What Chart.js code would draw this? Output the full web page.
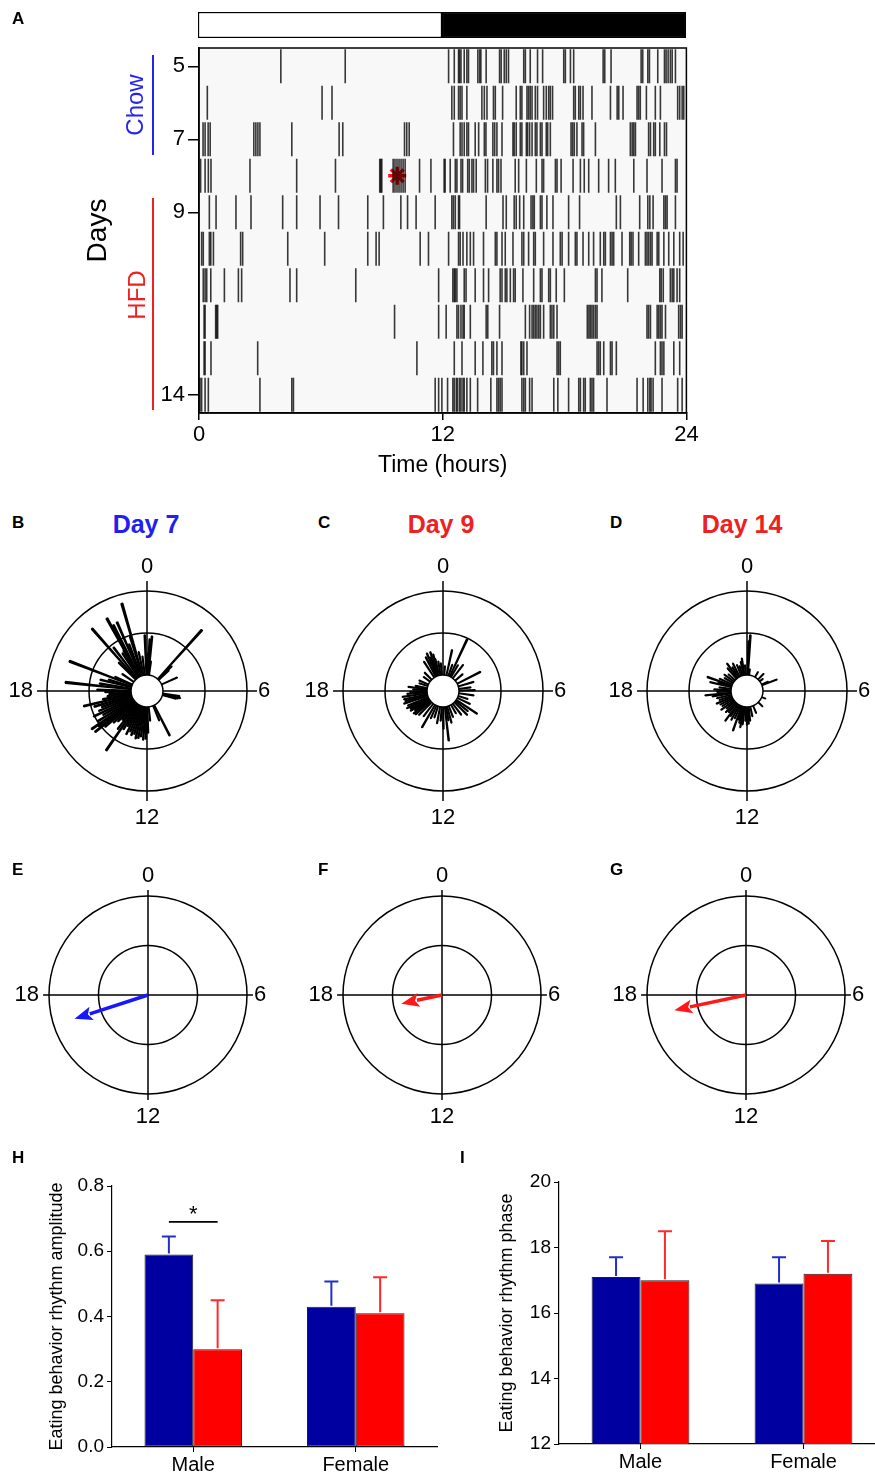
<!DOCTYPE html>
<html>
<head>
<meta charset="utf-8">
<script src="https://cdn.jsdelivr.net/npm/chart.js@4.4.1/dist/chart.umd.min.js"></script>
<style>
  body { margin: 0; background: #fff; overflow: hidden; }
  #fig { position: relative; width: 875px; height: 1475px; font-family: "Liberation Sans", Arial, sans-serif; }
  canvas { position: absolute; }
  .panel { position: absolute; font-weight: bold; font-size: 17px; }
  .title { position: absolute; font-weight: bold; font-size: 25px; transform: translateX(-50%); white-space: nowrap; }
  .rot { position: absolute; transform: translate(-50%, -50%) rotate(-90deg); white-space: nowrap; font-size: 24px; }
  .bar { position: absolute; width: 2px; }
</style>
</head>
<body>
<div id="fig">
  <canvas id="lightdark" width="700" height="39" style="left:0;top:0"></canvas>
  <canvas id="actogram" width="705" height="480" style="left:0;top:0"></canvas>

  <canvas id="polar7" width="290" height="290" style="left:2px;top:546px"></canvas>
  <canvas id="polar9" width="290" height="290" style="left:298px;top:546px"></canvas>
  <canvas id="polar14" width="290" height="290" style="left:602px;top:546px"></canvas>

  <canvas id="vec7" width="290" height="290" style="left:3px;top:850px"></canvas>
  <canvas id="vec9" width="290" height="290" style="left:297px;top:850px"></canvas>
  <canvas id="vec14" width="290" height="290" style="left:601px;top:850px"></canvas>

  <canvas id="amplitude" width="440" height="315" style="left:0;top:1160px"></canvas>
  <canvas id="phase" width="445" height="315" style="left:440px;top:1160px"></canvas>

  <div class="panel" style="left:12px;top:9px">A</div>
  <div class="panel" style="left:12px;top:513px">B</div>
  <div class="panel" style="left:318px;top:513px">C</div>
  <div class="panel" style="left:610px;top:513px">D</div>
  <div class="panel" style="left:12px;top:860px">E</div>
  <div class="panel" style="left:318px;top:860px">F</div>
  <div class="panel" style="left:610px;top:860px">G</div>
  <div class="panel" style="left:12px;top:1148px">H</div>
  <div class="panel" style="left:460px;top:1148px">I</div>

  <div class="title" style="left:146px;top:510px;color:#2020f0">Day 7</div>
  <div class="title" style="left:441px;top:510px;color:#f02020">Day 9</div>
  <div class="title" style="left:742px;top:510px;color:#f02020">Day 14</div>

  <div class="rot" style="left:135px;top:105px;color:#2424f0">Chow</div>
  <div class="bar" style="left:152px;top:55px;height:100px;background:#2424f0"></div>
  <div class="rot" style="left:137px;top:295px;color:#f02020">HFD</div>
  <div class="bar" style="left:152px;top:198px;height:212px;background:#f02020"></div>
</div>

<script>
// ---- panel A: eating events (hour of day) per day ----
const DAYS = [5, 6, 7, 8, 9, 10, 11, 12, 13, 14];
const DAY_TICKS = [5, 7, 9, 14];
const LIGHT_PHASE = [0, 12];
const DARK_PHASE = [12, 24];

const day05 = [4.03, 7.2, 12.29, 12.57, 12.78, 12.83, 12.9, 13.06, 13.19, 13.27, 13.73, 13.82, 13.88, 14.14, 14.8, 14.88, 15.03, 15.13, 15.24, 15.99, 16.07, 16.31, 16.67, 16.92, 17.96, 18.04, 18.29, 18.45, 19.9, 19.98, 20.29, 21.77, 21.85, 22.1, 22.18, 22.59, 22.92, 23.0, 23.1, 23.21, 23.3, 23.46];
const day06 = [0.41, 6.06, 6.55, 12.45, 12.57, 12.78, 12.86, 12.95, 13.19, 13.93, 14.05, 14.18, 14.5, 14.59, 14.95, 15.62, 15.82, 15.9, 16.15, 16.23, 16.31, 16.4, 16.56, 16.67, 16.97, 17.1, 17.22, 17.3, 17.41, 18.45, 18.53, 18.7, 18.78, 18.91, 19.35, 20.26, 20.59, 20.67, 20.88, 21.57, 21.65, 21.73, 22.03, 22.47, 22.72, 23.57, 23.67, 23.79, 23.87];
const day07 = [0.2, 0.3, 0.45, 0.55, 2.7, 2.8, 2.9, 3.0, 4.57, 6.9, 7.08, 10.12, 10.23, 10.35, 12.53, 12.86, 12.95, 13.06, 13.19, 13.27, 13.6, 13.77, 14.05, 14.13, 14.47, 14.56, 14.67, 14.92, 15.46, 15.52, 15.62, 15.82, 15.9, 16.12, 16.18, 16.28, 16.4, 16.56, 16.64, 16.81, 16.89, 17.1, 17.17, 17.3, 18.32, 18.4, 18.48, 18.61, 18.86, 18.94, 19.52, 21.24, 21.33, 21.41, 21.49, 22.14, 22.23, 22.39, 22.47, 22.69, 22.92, 23.02];
const day08 = [0.08, 0.3, 0.46, 0.59, 2.51, 4.81, 6.72, 8.9, 8.95, 9.0, 9.56, 9.65, 9.75, 9.85, 9.95, 10.05, 10.15, 10.86, 11.42, 12.07, 12.12, 12.37, 12.62, 12.7, 12.9, 12.98, 13.23, 13.31, 13.44, 13.52, 13.65, 14.1, 14.21, 14.47, 14.67, 14.75, 14.87, 15.57, 15.74, 16.12, 16.61, 16.89, 16.97, 17.55, 17.63, 17.83, 18.42, 18.78, 18.97, 19.19, 19.68, 20.17, 20.5, 21.41, 22.06, 22.8, 23.46, 23.54];
const day09 = [0.51, 0.84, 1.82, 2.56, 4.12, 4.81, 5.96, 6.87, 8.31, 9.08, 9.94, 10.27, 10.69, 11.63, 12.45, 12.53, 12.62, 12.78, 12.83, 14.14, 14.97, 15.13, 15.52, 15.62, 15.79, 15.99, 16.35, 16.44, 16.51, 16.81, 16.89, 17.13, 17.43, 18.2, 18.74, 20.55, 20.75, 21.7, 22.1, 22.2, 22.36, 22.89, 22.97, 23.05, 23.46];
const day10 = [0.13, 0.21, 0.51, 0.58, 0.71, 2.05, 2.15, 4.37, 6.19, 8.31, 8.72, 8.87, 10.89, 11.3, 12.29, 12.78, 12.86, 13.0, 13.19, 13.36, 13.52, 14.01, 14.59, 14.67, 14.92, 15.08, 15.46, 15.9, 15.99, 16.23, 16.48, 16.56, 16.97, 17.43, 17.79, 17.88, 18.2, 18.53, 18.61, 18.91, 19.19, 19.43, 19.76, 19.93, 20.01, 20.26, 20.34, 20.42, 20.83, 21.21, 21.28, 21.37, 21.65, 21.98, 22.06, 22.14, 22.23, 22.31, 22.56, 22.64, 22.89, 23.13, 23.38, 23.67, 23.84];
const day11 = [0.21, 0.3, 0.38, 0.58, 1.25, 1.94, 2.1, 4.48, 4.81, 7.72, 11.8, 12.5, 12.57, 12.62, 12.7, 13.06, 13.15, 13.6, 14.01, 14.26, 14.83, 14.92, 15.08, 15.16, 15.33, 15.49, 15.57, 15.95, 16.48, 16.81, 16.89, 17.22, 17.3, 17.59, 17.99, 19.52, 19.6, 19.84, 21.11, 22.69, 22.76, 22.86, 23.21, 23.3, 23.38, 23.54, 23.67];
const day12 = [0.25, 0.3, 0.82, 0.87, 0.92, 9.63, 11.8, 12.17, 12.7, 12.78, 12.9, 13.0, 13.06, 13.36, 14.14, 14.22, 14.8, 16.07, 16.28, 16.4, 16.48, 16.56, 16.64, 16.73, 16.81, 16.97, 17.3, 17.38, 17.47, 17.63, 19.12, 19.2, 19.27, 19.35, 19.43, 19.52, 19.6, 22.06, 22.14, 22.23, 22.56, 22.64, 22.72, 22.8, 22.97, 23.62, 23.71, 23.79];
const day13 = [0.25, 0.3, 0.59, 2.89, 10.73, 12.57, 12.95, 13.6, 13.98, 14.42, 14.5, 14.67, 14.92, 15.85, 15.9, 15.99, 16.15, 17.63, 17.71, 17.79, 19.6, 19.68, 19.76, 19.93, 20.26, 20.34, 20.55, 22.47, 22.72, 22.8, 22.89, 23.38, 23.67];
const day14 = [0.05, 0.13, 0.3, 0.46, 3.0, 4.57, 4.65, 11.63, 11.8, 11.96, 12.24, 12.5, 12.57, 12.67, 12.73, 12.83, 12.9, 13.0, 13.06, 13.19, 13.36, 13.72, 14.37, 14.67, 14.75, 14.83, 14.92, 15.9, 15.99, 16.07, 16.28, 16.4, 17.47, 17.67, 18.2, 18.7, 18.78, 18.94, 19.02, 19.27, 19.35, 19.43, 20.09, 21.57, 21.87, 22.1, 22.2, 22.26, 22.36, 22.8, 23.57, 23.79];
const ACTOGRAM = [day05, day06, day07, day08, day09, day10, day11, day12, day13, day14];
const MARKED_EVENT = { hour: 9.76, day: 8 };

// ---- panels B-D: eating bouts by hour (spoke length, outer ring = 100) ----
const day7Hours = [23.85, 0.1, 0.2, 0.35, 0.5, 2.8, 3.0, 3.1, 4.4, 6.6, 6.8, 6.9, 7.0, 10.2, 10.5, 11.6, 11.9, 12.1, 12.3, 12.5, 12.7, 12.9, 13.1, 13.3, 13.5, 13.7, 13.9, 14.1, 14.3, 14.5, 14.7, 14.9, 15.1, 15.3, 15.45, 15.6, 15.7, 15.9, 16.1, 16.3, 16.5, 16.7, 16.9, 17.1, 17.3, 17.5, 17.7, 17.9, 18.1, 18.4, 18.6, 18.9, 19.1, 19.4, 19.6, 20.3, 21.0, 21.24, 21.5, 21.8, 22.0, 22.07, 22.2, 22.43, 22.6, 22.85, 22.93, 23.2, 23.5];
const day7Len = [56, 38, 52, 55, 30, 82, 35, 30, 33, 33, 34, 32, 30, 50, 32, 30, 42, 48, 49, 46, 48, 49, 45, 47, 44, 48, 40, 45, 72, 48, 38, 42, 46, 55, 66, 60, 67, 58, 50, 59, 52, 48, 55, 65, 45, 40, 38, 42, 50, 82, 48, 48, 40, 83, 35, 30, 40, 83, 55, 45, 47, 83, 74, 75, 50, 57, 91, 40, 35];
const day9Hours = [20.4, 21.0, 21.8, 22.2, 22.45, 22.6, 22.8, 23.0, 23.1, 23.4, 23.7, 0.3, 0.83, 1.3, 1.67, 2.0, 2.5, 3.3, 4.2, 4.9, 5.5, 5.9, 6.53, 7.2, 7.7, 8.25, 8.6, 8.97, 9.5, 10.0, 10.6, 11.0, 11.3, 11.56, 11.95, 12.3, 12.7, 13.2, 13.6, 14.0, 14.5, 15.0, 15.3, 15.5, 15.7, 15.9, 16.1, 16.3, 16.5, 16.8, 17.0, 17.2, 17.45, 17.7, 17.9, 18.2, 18.45, 18.7, 19.2, 19.6];
const day9Len = [24, 26, 35, 38, 41, 36, 41, 38, 33, 30, 28, 25, 42, 28, 57, 30, 33, 26, 42, 32, 28, 32, 31, 26, 30, 41, 32, 34, 30, 26, 28, 33, 30, 50, 38, 30, 33, 28, 30, 42, 32, 34, 36, 37, 34, 38, 37, 40, 38, 41, 39, 40, 41, 36, 33, 30, 35, 28, 25, 26];
const day14Hours = [0.13, 0.23, 0.5, 2.0, 2.93, 3.5, 4.4, 4.6, 7.5, 9.0, 10.5, 11.2, 11.6, 11.8, 12.0, 12.2, 12.5, 12.7, 12.9, 13.1, 13.3, 13.6, 13.9, 14.2, 14.4, 14.7, 15.0, 15.3, 15.6, 15.9, 16.2, 16.5, 16.8, 17.1, 17.4, 17.6, 17.9, 18.2, 18.5, 18.9, 19.1, 19.3, 19.6, 20.0, 20.4, 20.8, 21.3, 21.6, 21.9, 22.2, 22.6, 22.9, 23.2, 23.4, 23.7];
const day14Len = [50, 56, 22, 22, 24, 20, 23, 32, 20, 22, 24, 26, 30, 33, 34, 30, 34, 37, 33, 30, 42, 30, 33, 30, 37, 28, 30, 27, 32, 29, 30, 33, 29, 31, 35, 42, 30, 33, 28, 38, 30, 42, 30, 26, 28, 25, 30, 34, 28, 31, 28, 26, 30, 33, 26];
const SPOKE_RINGS = [0, 58, 100];
const HUB = 16;

// ---- panels E-G: mean vector (phase in hours, amplitude with outer ring = 1) ----
const VECTOR_PHASE = [16.8, 17.2, 17.2];
const VECTOR_AMP = [0.78, 0.42, 0.74];
const VECTOR_RINGS = [0, 0.5, 1];

const CLOCK_HOURS = [0, 6, 12, 18];

// ---- panels H and I ----
const SEXES = ['Male', 'Female'];
const ampChow = [0.59, 0.43];
const ampChowSem = [0.055, 0.077];
const ampHfd = [0.30, 0.41];
const ampHfdSem = [0.15, 0.11];
const phaseChow = [17.1, 16.9];
const phaseChowSem = [0.6, 0.8];
const phaseHfd = [17.0, 17.2];
const phaseHfdSem = [1.5, 1.0];

const BLUE = '#0000a0';
const RED = '#ff0000';
const FONT = '"Liberation Sans", Arial, sans-serif';

Chart.defaults.font.family = FONT;
Chart.defaults.color = '#000';
Chart.defaults.animation = false;
Chart.defaults.responsive = false;
Chart.defaults.plugins.legend.display = false;
Chart.defaults.plugins.tooltip.enabled = false;

// plot background + box for the actogram
const plotBox = {
  id: 'plotBox',
  beforeDraw(chart) {
    const {ctx, chartArea: a} = chart;
    ctx.save();
    ctx.fillStyle = '#f8f8f8';
    ctx.fillRect(a.left, a.top, a.right - a.left, a.bottom - a.top);
    ctx.restore();
  },
  afterDraw(chart) {
    const {ctx, chartArea: a} = chart;
    ctx.save();
    ctx.strokeStyle = '#000';
    ctx.lineWidth = 1.5;
    ctx.strokeRect(a.left, a.top, a.right - a.left, a.bottom - a.top);
    ctx.restore();
  }
};

// light / dark bar
new Chart(document.getElementById('lightdark'), {
  type: 'bar',
  data: {
    labels: [''],
    datasets: [
      {data: [LIGHT_PHASE], backgroundColor: '#fff'},
      {data: [DARK_PHASE], backgroundColor: '#000'}
    ]
  },
  options: {
    indexAxis: 'y',
    layout: {padding: {left: 198, right: 14, top: 12, bottom: 1}},
    datasets: {bar: {barPercentage: 1, categoryPercentage: 1, grouped: false, borderColor: '#000', borderWidth: 1.5, borderSkipped: false}},
    scales: {
      x: {display: false, min: 0, max: 24},
      y: {display: false}
    }
  }
});

// actogram
const actoPoints = [];
DAYS.forEach((d, i) => ACTOGRAM[i].forEach(h => actoPoints.push({x: h, y: d})));

new Chart(document.getElementById('actogram'), {
  type: 'scatter',
  data: {
    datasets: [
      {data: actoPoints, pointStyle: 'line', rotation: 90, pointRadius: 17, borderColor: 'rgba(0,0,0,0.78)', borderWidth: 1.6},
      {data: [{x: MARKED_EVENT.hour, y: MARKED_EVENT.day}], pointStyle: 'star', pointRadius: 9, borderColor: '#ff1010', borderWidth: 3.5}
    ]
  },
  options: {
    layout: {padding: {left: 81, right: 14, top: 48, bottom: 1}},
    scales: {
      x: {
        type: 'linear', min: 0, max: 24,
        ticks: {stepSize: 12, font: {size: 22}, padding: 2},
        grid: {drawOnChartArea: false, tickLength: 7, color: '#000', lineWidth: 1.5},
        border: {color: '#000', width: 1.5},
        title: {display: true, text: 'Time (hours)', font: {size: 23}, padding: 0},
        afterFit: s => { s.height = 66; }
      },
      y: {
        type: 'linear', min: 4.5, max: 14.5, reverse: true,
        afterBuildTicks: s => { s.ticks = DAY_TICKS.map(v => ({value: v})); },
        ticks: {font: {size: 22}, padding: 3},
        grid: {drawOnChartArea: false, tickLength: 11, color: '#000', lineWidth: 1.5},
        border: {color: '#000', width: 1.5},
        title: {display: true, text: 'Days', font: {size: 28}, padding: 0},
        afterFit: s => { s.width = 118; }
      }
    }
  },
  plugins: [plotBox]
});

// polar helpers
function spokeTable(hours, lengths, width) {
  const order = hours.map((h, i) => i).sort((a, b) => hours[a] - hours[b]);
  const values = [], angles = [];
  let pos = 0;
  order.forEach(i => {
    const start = hours[i] * 15 - width / 2;
    angles.push(Math.max(start - pos, 0.001)); values.push(0);
    angles.push(width); values.push(lengths[i]);
    pos = Math.max(start, pos) + width;
  });
  angles.push(Math.max(360 - pos, 0.001)); values.push(0);
  return {values, angles};
}

// position on the radial scale for a clock hour
function clockPoint(s, hour, dist) {
  return s.getPointPosition(0, dist, hour * 15 * Math.PI / 180);
}

const polarDecor = {
  id: 'polarDecor',
  beforeDatasetsDraw(chart, args, opts) {
    const s = chart.scales.r, ctx = chart.ctx;
    const ext = s.drawingArea * opts.crossExt;
    ctx.save();
    ctx.strokeStyle = '#000';
    ctx.lineWidth = 1.5;
    ctx.beginPath();
    ctx.moveTo(s.xCenter - ext, s.yCenter); ctx.lineTo(s.xCenter + ext, s.yCenter);
    ctx.moveTo(s.xCenter, s.yCenter - ext); ctx.lineTo(s.xCenter, s.yCenter + ext);
    ctx.stroke();
    ctx.fillStyle = '#000';
    ctx.font = '22px ' + FONT;
    CLOCK_HOURS.forEach(h => {
      if (h === 0 || h === 12) {
        const p = clockPoint(s, h, ext + 15);
        ctx.textAlign = 'center'; ctx.textBaseline = 'middle';
        ctx.fillText(String(h), p.x, p.y + (h === 0 ? 1 : 2));
      } else {
        const p = clockPoint(s, h, ext + (h === 6 ? 1 : 4));
        ctx.textAlign = h === 6 ? 'left' : 'right'; ctx.textBaseline = 'middle';
        ctx.fillText(String(h), p.x, p.y);
      }
    });
    ctx.restore();
  },
  afterDatasetsDraw(chart, args, opts) {
    const s = chart.scales.r, ctx = chart.ctx;
    ctx.save();
    if (opts.hub) {
      ctx.beginPath();
      ctx.arc(s.xCenter, s.yCenter, s.getDistanceFromCenterForValue(opts.hub), 0, Math.PI * 2);
      ctx.fillStyle = '#fff';
      ctx.fill();
      ctx.strokeStyle = '#000';
      ctx.lineWidth = 1.5;
      ctx.stroke();
    }
    if (opts.arrow) {
      const a = opts.arrow;
      const tip = clockPoint(s, a.phase, s.getDistanceFromCenterForValue(a.amp));
      const ux = Math.cos(tip.angle), uy = Math.sin(tip.angle);
      const headLen = 18, headW = 7;
      const bx = tip.x - ux * headLen, by = tip.y - uy * headLen;
      ctx.strokeStyle = a.color;
      ctx.fillStyle = a.color;
      ctx.lineWidth = 3.5;
      ctx.beginPath();
      ctx.moveTo(s.xCenter, s.yCenter);
      ctx.lineTo(bx + ux * 2, by + uy * 2);
      ctx.stroke();
      ctx.beginPath();
      ctx.moveTo(tip.x, tip.y);
      ctx.lineTo(bx - uy * headW, by + ux * headW);
      ctx.lineTo(bx + ux * 4, by + uy * 4);
      ctx.lineTo(bx + uy * headW, by - ux * headW);
      ctx.closePath();
      ctx.fill();
    }
    ctx.restore();
  }
};

function polarChart(id, hours, lengths, cfg) {
  const t = spokeTable(hours, lengths, 1.0);
  return new Chart(document.getElementById(id), {
    type: 'polarArea',
    data: {
      labels: t.values.map(() => ''),
      datasets: [{
        data: t.values,
        angle: c => t.angles[c.dataIndex],
        backgroundColor: c => t.values[c.dataIndex] ? '#000' : 'rgba(0,0,0,0)',
        borderColor: '#000',
        borderWidth: c => t.values[c.dataIndex] ? 1.7 : 0
      }]
    },
    options: {
      layout: {padding: cfg.pad},
      scales: {
        r: {
          min: 0, max: cfg.max,
          ticks: {display: false},
          afterBuildTicks: s => { s.ticks = cfg.rings.map(v => ({value: v})); },
          grid: {circular: true, color: '#000', lineWidth: 1.5},
          angleLines: {display: false},
          pointLabels: {display: false}
        }
      },
      plugins: {polarDecor: {crossExt: cfg.crossExt, hub: cfg.hub, arrow: cfg.arrow}}
    },
    plugins: [polarDecor]
  });
}

polarChart('polar7', day7Hours, day7Len, {pad: 45, max: 100, rings: SPOKE_RINGS, crossExt: 1.1, hub: HUB});
polarChart('polar9', day9Hours, day9Len, {pad: 45, max: 100, rings: SPOKE_RINGS, crossExt: 1.1, hub: HUB});
polarChart('polar14', day14Hours, day14Len, {pad: 45, max: 100, rings: SPOKE_RINGS, crossExt: 1.1, hub: HUB});

const vectorColors = ['#1818ff', '#ff1818', '#ff1818'];
['vec7', 'vec9', 'vec14'].forEach((id, i) => {
  polarChart(id, [], [], {pad: 46, max: 1, rings: VECTOR_RINGS, crossExt: 1.06, hub: 0,
    arrow: {phase: VECTOR_PHASE[i], amp: VECTOR_AMP[i], color: vectorColors[i]}});
});

// error bars + significance for H/I
const errorBars = {
  id: 'errorBars',
  afterDatasetsDraw(chart) {
    const ctx = chart.ctx, y = chart.scales.y;
    ctx.save();
    ctx.lineWidth = 2;
    chart.data.datasets.forEach((ds, i) => {
      const meta = chart.getDatasetMeta(i);
      ctx.strokeStyle = ds.errorColor;
      meta.data.forEach((bar, j) => {
        const top = y.getPixelForValue(ds.data[j] + ds.sem[j]);
        ctx.beginPath();
        ctx.moveTo(bar.x, bar.y - 1); ctx.lineTo(bar.x, top);
        ctx.moveTo(bar.x - 7, top); ctx.lineTo(bar.x + 7, top);
        ctx.stroke();
      });
    });
    ctx.restore();
  }
};

const sigMark = {
  id: 'sigMark',
  afterDatasetsDraw(chart, args, opts) {
    if (!opts.level) return;
    const ctx = chart.ctx, y = chart.scales.y;
    const x1 = chart.getDatasetMeta(0).data[opts.index].x;
    const x2 = chart.getDatasetMeta(1).data[opts.index].x;
    const yl = y.getPixelForValue(opts.level);
    ctx.save();
    ctx.strokeStyle = '#000';
    ctx.lineWidth = 1.8;
    ctx.beginPath(); ctx.moveTo(x1, yl); ctx.lineTo(x2, yl); ctx.stroke();
    ctx.fillStyle = '#000';
    ctx.font = '22px ' + FONT;
    ctx.textAlign = 'center';
    ctx.textBaseline = 'middle';
    ctx.fillText('*', (x1 + x2) / 2, y.getPixelForValue(opts.star) + 3);
    ctx.restore();
  }
};

function barChart(id, chow, chowSem, hfd, hfdSem, cfg) {
  return new Chart(document.getElementById(id), {
    type: 'bar',
    data: {
      labels: SEXES,
      datasets: [
        {label: 'Chow', data: chow, sem: chowSem, backgroundColor: BLUE, errorColor: '#2030c8'},
        {label: 'HFD', data: hfd, sem: hfdSem, backgroundColor: RED, errorColor: '#ff2a2a'}
      ]
    },
    options: {
      layout: {padding: cfg.pad},
      datasets: {bar: {barPercentage: 1, categoryPercentage: 0.6, borderColor: '#222', borderWidth: 1, borderSkipped: false}},
      scales: {
        x: {
          grid: {offset: false, drawOnChartArea: false, tickLength: 5, color: '#000'},
          border: {color: '#000', width: 1.2},
          ticks: {font: {size: 20}, padding: 1},
          afterFit: s => { s.height = cfg.xHeight; }
        },
        y: {
          min: cfg.min, max: cfg.max,
          ticks: {stepSize: cfg.step, font: {size: 19}, padding: 3, callback: cfg.fmt},
          grid: {drawOnChartArea: false, tickLength: 5, color: '#000'},
          border: {color: '#000', width: 1.2},
          title: {display: true, text: cfg.title, font: {size: 18}, padding: 0},
          afterFit: s => { s.width = cfg.yWidth; }
        }
      },
      plugins: {sigMark: cfg.sig || {}}
    },
    plugins: [errorBars, sigMark]
  });
}

barChart('amplitude', ampChow, ampChowSem, ampHfd, ampHfdSem, {
  pad: {left: 46, right: 3, top: 26, bottom: 0}, xHeight: 28, yWidth: 66,
  min: 0, max: 0.8, step: 0.2, fmt: v => v.toFixed(1),
  title: 'Eating behavior rhythm amplitude',
  sig: {index: 0, level: 0.69, star: 0.72}
});

barChart('phase', phaseChow, phaseChowSem, phaseHfd, phaseHfdSem, {
  pad: {left: 56, right: 0, top: 22, bottom: 0}, xHeight: 31, yWidth: 63,
  min: 12, max: 20, step: 2, fmt: v => String(v),
  title: 'Eating behavior rhythm phase'
});
</script>
</body>
</html>
